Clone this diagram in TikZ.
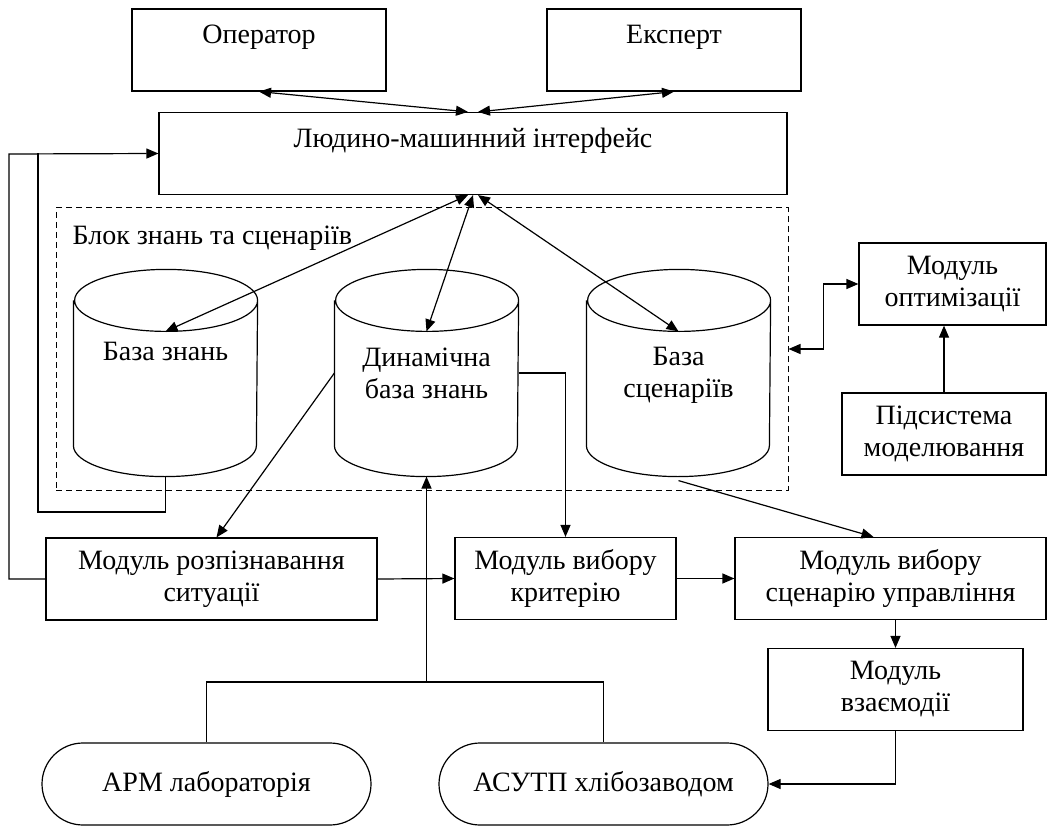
\documentclass[tikz,border=0pt]{standalone}
\usepackage{fontspec}
\setmainfont{Liberation Serif}
\usetikzlibrary{arrows.meta,shapes.misc}

\begin{document}
\begin{tikzpicture}[x=1pt,y=-1pt,line width=1.2pt,
	>={Triangle[length=12pt,width=10pt]},
	every node/.style={font=\fontsize{28}{32}\selectfont,align=center,inner sep=0pt},
	box/.style={draw,minimum height=82pt},
	db/.style={minimum width=183pt,minimum height=206pt},
	term/.style={draw,rounded rectangle,minimum width=329pt,minimum height=82pt}]
	\useasboundingbox (0,0) rectangle (1048,826);
	\def\ry{31pt} % half height of the cylinder ends
	
	\node[box,minimum width=254pt] (oper) at (259,50) {Оператор\\\mbox{}};
	\node[box,minimum width=254pt] (exp) at (674,50) {Експерт\\\mbox{}};
	\node[box,minimum width=628pt] (hmi) at (473,153.5) {Людино-машинний інтерфейс\\\mbox{}};
	\node[draw,dash pattern=on 6pt off 4pt,line width=1pt,minimum width=732pt,minimum height=282pt] (block) at (422,349) {};
	\node[anchor=base west] (blocklbl) at (72,244) {Блок знань та сценаріїв};
	\node[db] (kb) at (165.5,367) {База знань\\\mbox{}};
	\node[db] (dkb) at (426.5,373) {Динамічна\\база знань};
	\node[db] (sb) at (678.5,375) {База\\сценаріїв};
	\foreach \c/\dy in {kb/6,dkb/0,sb/-2}
		\draw ([yshift=-\ry-\dy]\c.north west) -- ([yshift=\ry-\dy]\c.south west)
			arc[start angle=180,end angle=360,x radius=91.5pt,y radius=\ry]
			-- ([yshift=-\ry-\dy]\c.north east)
			arc[start angle=0,end angle=360,x radius=91.5pt,y radius=\ry];
	\node[box,minimum width=187pt] (opt) at (952.5,284) {Модуль\\оптимізації};
	\node[box,minimum width=204pt] (sim) at (944,434) {Підсистема\\моделювання};
	\node[box,minimum width=331pt] (recog) at (211.5,579) {Модуль розпізнавання\\ситуації};
	\node[box,minimum width=221pt] (crit) at (565.5,578.5) {Модуль вибору\\критерію};
	\node[box,minimum width=311pt] (scen) at (890.5,578.5) {Модуль вибору\\сценарію управління};
	\node[box,minimum width=255pt] (inter) at (895.5,689.5) {Модуль\\взаємодії};
	\node[term] (arm) at (206.5,784) {АРМ лабораторія};
	\node[term] (asu) at (603.5,784) {АСУТП хлібозаводом};
	
	\draw[<->] (oper.south) -- ([xshift=-5pt]hmi.north);
	\draw[<->] (exp.south) -- ([xshift=5pt]hmi.north);
	\draw[<->] ([xshift=-5pt]hmi.south) -- ([yshift=-2*\ry-6]kb.north);
	\draw[<->] (hmi.south) -- ([yshift=-2*\ry]dkb.north);
	\draw[<->] ([xshift=5pt]hmi.south) -- ([yshift=-2*\ry+2]sb.north);
	\draw[->] (dkb.west) -- ([xshift=5pt]recog.north);
	\draw[->] (dkb.east) -| (crit.north);
	\draw[->] ([yshift=-2]sb.south) -- ([xshift=-17pt]scen.north);
	\draw[<->] (block.east) -- ++(35,0) |- (opt.west);
	\draw[->] (sim.north) -- (sim.north |- opt.south);
	\draw[->] (recog.east) -- (crit.west);
	\draw[->] (crit.east) -- (scen.west);
	\draw[->] (inter.north |- scen.south) -- (inter.north);
	\draw[->] (inter.south) |- (asu.east);
	\coordinate (jn) at (426.5,682);
	\draw (arm.north) |- (jn) -| (asu.north);
	\draw[->] (jn) -- (dkb.south);
	\coordinate (inL) at (38,512);
	\coordinate (outL) at (9,154);
	\draw ([yshift=-6]kb.south) |- (inL) -- (inL |- hmi.west);
	\draw[->] (recog.west) -| (outL) -- (hmi.west);
\end{tikzpicture}
\end{document}
